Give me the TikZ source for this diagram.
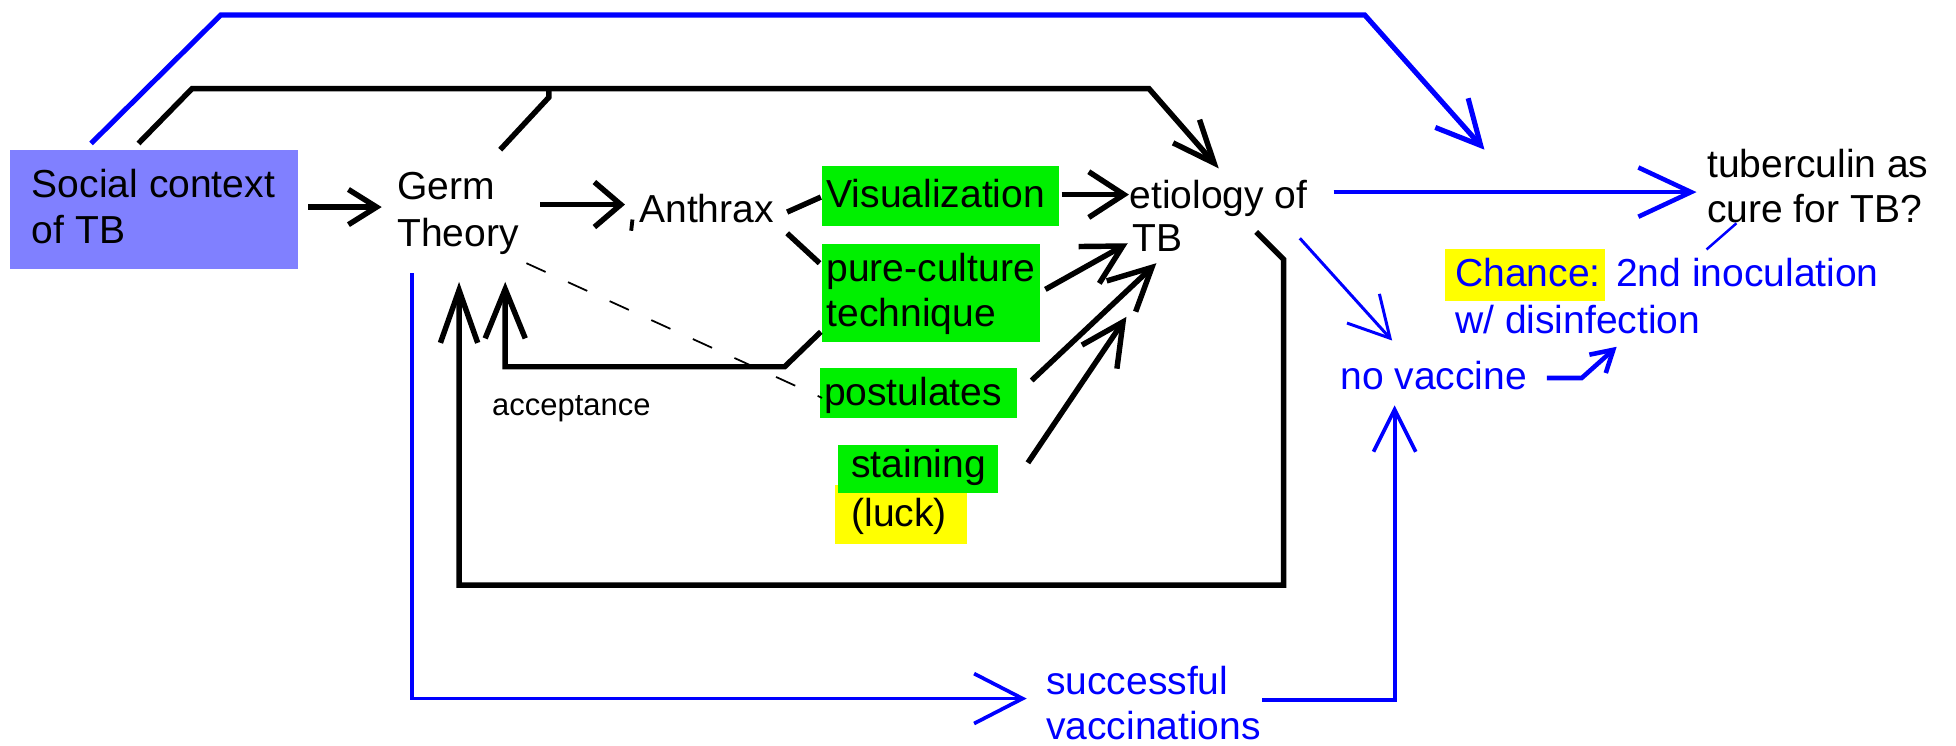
\documentclass[tikz,border=0pt]{standalone}
\usepackage{fontspec}
\setmainfont{Liberation Sans}
\usetikzlibrary{arrows.meta,fit}
\definecolor{pblue}{RGB}{0,0,255}
\definecolor{pgreen}{RGB}{0,240,0}
\definecolor{pyellow}{RGB}{255,255,0}
\definecolor{psocial}{RGB}{128,128,255}
\begin{document}
\begin{tikzpicture}[x=0.012474cm, y=-0.012474cm,
  txt/.style={anchor=base west, inner sep=0pt, font=\fontsize{11.1}{13}\selectfont},
  btxt/.style={txt, text=pblue},
  boxfill/.style={inner sep=0pt, fill=#1},
  blk/.style={line width=1.55pt, draw=black},
  blu/.style={line width=1.3pt, draw=pblue},
  thinblu/.style={line width=0.85pt, draw=pblue},
  barb/.style args={#1/#2}{-{Straight Barb[length=#1,width=#2]}},
]
\useasboundingbox (0,0) rectangle (1568,598);

% boxes
\node[boxfill=psocial, fit={(8,120) (239,216)}] (socbox) {};
\node[boxfill=pgreen, fit={(659,133) (849,181)}] (visbox) {};
\node[boxfill=pgreen, fit={(659,196) (834,274)}] (purebox) {};
\node[boxfill=pgreen, fit={(657,295) (815,335)}] (postbox) {};
\node[boxfill=pyellow, fit={(669,389) (775,436)}] (luckbox) {};
\node[boxfill=pgreen, fit={(672,357) (800,395)}] (stainbox) {};
\node[boxfill=pyellow, fit={(1158,200) (1287,241)}] (chbox) {};

% texts
\node[txt] (soc1) at (25,158) {Social context};
\node[txt] (soc2) at (25,195) {of TB};
\node[txt] (germ1) at (318,160) {Germ};
\node[txt] (germ2) at (318,198) {Theory};
\node[txt] (anth) at (512,178) {Anthrax};
\node[txt] (vis) at (662,166) {Visualization};
\node[txt] (pure1) at (662,226) {pure-culture};
\node[txt] (pure2) at (662,262) {technique};
\node[txt] (post) at (660,325) {postulates};
\node[txt] (stain) at (682,383) {staining};
\node[txt] (luck) at (682,422) {(luck)};
\node[txt] (etio1) at (905,167) {etiology of};
\node[txt] (etio2) at (907,202) {TB};
\node[txt] (tub1) at (1368,142) {tuberculin as};
\node[txt] (tub2) at (1368,178) {cure for TB?};
\node[btxt] (ch) at (1166,230) {Chance:};
\node[btxt] (inoc) at (1295,230) {2nd inoculation};
\node[btxt] (dis) at (1166,267) {w/ disinfection};
\node[btxt] (novac) at (1074,312) {no vaccine};
\node[btxt] (succ1) at (838,557) {successful};
\node[btxt] (succ2) at (838,593) {vaccinations};
\node[txt, font=\fontsize{8.8}{10}\selectfont] (acc) at (394,333) {acceptance};

% black connectors
\coordinate (b1) at (111,115);
\coordinate (b2) at (154,71);
\coordinate (b3) at (921,71);
\coordinate (b4) at (977,135);
\draw[blk, barb=12pt/10pt] (b1) -- (b2) -- (b3) -- (b4);
\coordinate (g1) at (401,120);
\coordinate (g2) at (440,78);
\coordinate (g3) at (440,71);
\draw[blk] (g1) -- (g2) -- (g3);
\coordinate (sg1) at (247,166);
\coordinate (sg2) at (306,166);
\draw[blk, barb=8pt/10pt] (sg1) -- (sg2);
\coordinate (ga1) at (433,164);
\coordinate (ga2) at (501,164);
\draw[blk, barb=7.5pt/12.8pt] (ga1) -- (ga2);
\draw[line width=1.1pt] (507,176) -- (506,185);
\coordinate (av1) at (631,170);
\coordinate (av2) at (658,158);
\draw[blk] (av1) -- (av2);
\coordinate (ap1) at (631,187);
\coordinate (ap2) at (657,211);
\draw[blk] (ap1) -- (ap2);
\coordinate (ve1) at (851,156);
\coordinate (ve2) at (905,156);
\draw[blk, barb=10pt/13pt] (ve1) -- (ve2);
\coordinate (pe1) at (838,232);
\coordinate (pe2) at (904,195);
\draw[blk, barb=11pt/12pt] (pe1) -- (pe2);
\coordinate (se1) at (827,305);
\coordinate (se2) at (927,211);
\draw[blk, barb=12pt/12pt] (se1) -- (se2);
\coordinate (te1) at (824,371);
\coordinate (te2) at (903,254);
\draw[blk, barb=12pt/12pt] (te1) -- (te2);
\coordinate (ac1) at (658,266);
\coordinate (ac2) at (629,294);
\coordinate (ac3) at (405,294);
\coordinate (ac4) at (405,226);
\draw[blk, barb=14pt/11.4pt] (ac1) -- (ac2) -- (ac3) -- (ac4);
\coordinate (fb1) at (1007,186);
\coordinate (fb2) at (1029,208);
\coordinate (fb3) at (1029,469);
\coordinate (fb4) at (368,469);
\coordinate (fb5) at (368,226);
\draw[blk, barb=15pt/10.6pt] (fb1) -- (fb2) -- (fb3) -- (fb4) -- (fb5);
\coordinate (d1) at (422,211);
\coordinate (d2) at (659,319);
\draw[line width=0.5pt, dash pattern=on 6pt off 7pt] (d1) -- (d2);

% blue connectors
\coordinate (u1) at (73,115);
\coordinate (u2) at (177,12);
\coordinate (u3) at (1094,12);
\coordinate (u4) at (1190,120);
\draw[blu, line width=1.45pt, barb=12.4pt/12.5pt] (u1) -- (u2) -- (u3) -- (u4);
\coordinate (et1) at (1069,154);
\coordinate (et2) at (1360,154);
\draw[blu, barb=15pt/14pt] (et1) -- (et2);
\coordinate (en1) at (1042,191);
\coordinate (en2) at (1116,273);
\draw[thinblu, barb=11.4pt/12.4pt] (en1) -- (en2);
\coordinate (ni1) at (1240,303);
\coordinate (ni2) at (1268,303);
\coordinate (ni3) at (1296,278);
\draw[blu, barb=6pt/7pt] (ni1) -- (ni2) -- (ni3);
\coordinate (cu1) at (1392,179);
\coordinate (cu2) at (1368,200);
\draw[line width=0.7pt, pblue] (cu1) -- (cu2);
\coordinate (gs1) at (330,219);
\coordinate (gs2) at (330,560);
\coordinate (gs3) at (823,560);
\draw[blu, line width=1.05pt, barb=13.8pt/14.2pt] (gs1) -- (gs2) -- (gs3);
\coordinate (sn1) at (1012,561);
\coordinate (sn2) at (1118,561);
\coordinate (sn3) at (1118,325);
\draw[blu, line width=1.05pt, barb=12pt/12pt] (sn1) -- (sn2) -- (sn3);
\end{tikzpicture}
\end{document}
